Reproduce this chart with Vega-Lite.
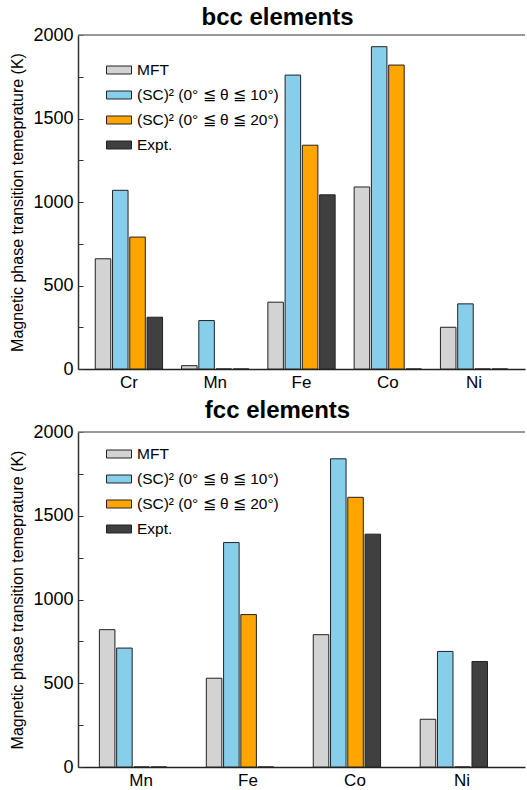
{
  "$schema": "https://vega.github.io/schema/vega-lite/v6.json",
  "background": "white",
  "padding": {"left": 9, "top": 6, "right": 0, "bottom": 0},
  "spacing": 9,
  "config": {
    "font": "Liberation Sans",
    "view": {"stroke": null},
    "axis": {"labelFont": "Liberation Sans", "titleFont": "Liberation Sans", "labelColor": "black", "titleColor": "black", "domainColor": "#333", "tickColor": "#333", "grid": false},
    "title": {"font": "Liberation Sans", "fontSize": 24, "fontWeight": "bold", "color": "black"},
    "legend": {"labelFont": "Liberation Sans", "labelColor": "black"}
  },
  "datasets": {
    "bcc": [
      {"element": "Cr", "method": "MFT", "T": 660},
      {"element": "Cr", "method": "(SC)² (0° ≦ θ ≦ 10°)", "T": 1070},
      {"element": "Cr", "method": "(SC)² (0° ≦ θ ≦ 20°)", "T": 790},
      {"element": "Cr", "method": "Expt.", "T": 310},
      {"element": "Mn", "method": "MFT", "T": 20},
      {"element": "Mn", "method": "(SC)² (0° ≦ θ ≦ 10°)", "T": 290},
      {"element": "Mn", "method": "(SC)² (0° ≦ θ ≦ 20°)", "T": 0},
      {"element": "Mn", "method": "Expt.", "T": 0},
      {"element": "Fe", "method": "MFT", "T": 400},
      {"element": "Fe", "method": "(SC)² (0° ≦ θ ≦ 10°)", "T": 1760},
      {"element": "Fe", "method": "(SC)² (0° ≦ θ ≦ 20°)", "T": 1340},
      {"element": "Fe", "method": "Expt.", "T": 1043},
      {"element": "Co", "method": "MFT", "T": 1090},
      {"element": "Co", "method": "(SC)² (0° ≦ θ ≦ 10°)", "T": 1930},
      {"element": "Co", "method": "(SC)² (0° ≦ θ ≦ 20°)", "T": 1820},
      {"element": "Co", "method": "Expt.", "T": 0},
      {"element": "Ni", "method": "MFT", "T": 250},
      {"element": "Ni", "method": "(SC)² (0° ≦ θ ≦ 10°)", "T": 390},
      {"element": "Ni", "method": "(SC)² (0° ≦ θ ≦ 20°)", "T": 0},
      {"element": "Ni", "method": "Expt.", "T": 0}
    ],
    "fcc": [
      {"element": "Mn", "method": "MFT", "T": 820},
      {"element": "Mn", "method": "(SC)² (0° ≦ θ ≦ 10°)", "T": 710},
      {"element": "Mn", "method": "(SC)² (0° ≦ θ ≦ 20°)", "T": 0},
      {"element": "Mn", "method": "Expt.", "T": 0},
      {"element": "Fe", "method": "MFT", "T": 530},
      {"element": "Fe", "method": "(SC)² (0° ≦ θ ≦ 10°)", "T": 1340},
      {"element": "Fe", "method": "(SC)² (0° ≦ θ ≦ 20°)", "T": 910},
      {"element": "Fe", "method": "Expt.", "T": 0},
      {"element": "Co", "method": "MFT", "T": 790},
      {"element": "Co", "method": "(SC)² (0° ≦ θ ≦ 10°)", "T": 1840},
      {"element": "Co", "method": "(SC)² (0° ≦ θ ≦ 20°)", "T": 1610},
      {"element": "Co", "method": "Expt.", "T": 1390},
      {"element": "Ni", "method": "MFT", "T": 285},
      {"element": "Ni", "method": "(SC)² (0° ≦ θ ≦ 10°)", "T": 690},
      {"element": "Ni", "method": "(SC)² (0° ≦ θ ≦ 20°)", "T": 0},
      {"element": "Ni", "method": "Expt.", "T": 630}
    ],
    "frame": [{"top": 2000}]
  },
  "resolve": {"legend": {"color": "independent"}},
  "vconcat": [
    {
      "width": 447,
      "height": 334,
      "title": {"text": "bcc elements", "dx": -24, "offset": -4},
      "layer": [
        {
          "data": {"name": "bcc"},
          "mark": {"type": "bar", "stroke": "#222", "strokeWidth": 1},
          "encoding": {
            "x": {"field": "element", "type": "nominal", "sort": ["Cr", "Mn", "Fe", "Co", "Ni"],
                  "scale": {"paddingInner": 0.22, "paddingOuter": 0.2},
                  "axis": {"title": null, "labelAngle": 0, "ticks": false, "labelFontSize": 17, "labelPadding": 5, "domainColor": "#222", "domainWidth": 1.5}},
            "xOffset": {"field": "method", "type": "nominal", "sort": ["MFT", "(SC)² (0° ≦ θ ≦ 10°)", "(SC)² (0° ≦ θ ≦ 20°)", "Expt."], "scale": {"paddingInner": 0.1}},
            "y": {"field": "T", "type": "quantitative", "scale": {"domain": [0, 2000]},
                  "axis": {"title": "Magnetic phase transition temeprature (K)", "values": [0, 250, 500, 750, 1000, 1250, 1500, 1750, 2000], "format": "d",
                           "labelExpr": "datum.value % 500 === 0 ? datum.label : ''", "tickSize": -5, "labelPadding": 10, "labelFontSize": 18,
                           "titleFontSize": 16, "titleFontWeight": "normal", "titlePadding": 7, "domainWidth": 1.5}},
            "color": {"field": "method", "type": "nominal",
                      "scale": {"domain": ["MFT", "(SC)² (0° ≦ θ ≦ 10°)", "(SC)² (0° ≦ θ ≦ 20°)", "Expt."], "range": ["#d3d3d3", "#87ceeb", "#ffa500", "#404040"]},
                      "legend": {"orient": "none", "legendX": 28, "legendY": 22, "title": null, "symbolType": "M-1,-0.32H1V0.32H-1Z", "symbolSize": 625,
                                 "symbolStrokeColor": "#222", "symbolStrokeWidth": 1, "symbolOpacity": 1, "labelFontSize": 15.5, "labelOffset": 5, "rowPadding": 3}}
          }
        },
        {
          "data": {"name": "frame"},
          "mark": {"type": "rule", "color": "#777", "strokeWidth": 1.5},
          "encoding": {"y": {"field": "top", "type": "quantitative", "title": "Magnetic phase transition temeprature (K)"}}
        }
      ]
    },
    {
      "width": 447,
      "height": 335,
      "title": {"text": "fcc elements", "dx": -24, "offset": 0},
      "layer": [
        {
          "data": {"name": "fcc"},
          "mark": {"type": "bar", "stroke": "#222", "strokeWidth": 1},
          "encoding": {
            "x": {"field": "element", "type": "nominal", "sort": ["Mn", "Fe", "Co", "Ni"],
                  "scale": {"paddingInner": 0.22, "paddingOuter": 0.2},
                  "axis": {"title": null, "labelAngle": 0, "ticks": false, "labelFontSize": 17, "labelPadding": 5, "domainColor": "#222", "domainWidth": 1.5}},
            "xOffset": {"field": "method", "type": "nominal", "sort": ["MFT", "(SC)² (0° ≦ θ ≦ 10°)", "(SC)² (0° ≦ θ ≦ 20°)", "Expt."], "scale": {"paddingInner": 0.1}},
            "y": {"field": "T", "type": "quantitative", "scale": {"domain": [0, 2000]},
                  "axis": {"title": "Magnetic phase transition temeprature (K)", "values": [0, 250, 500, 750, 1000, 1250, 1500, 1750, 2000], "format": "d",
                           "labelExpr": "datum.value % 500 === 0 ? datum.label : ''", "tickSize": -5, "labelPadding": 10, "labelFontSize": 18,
                           "titleFontSize": 16, "titleFontWeight": "normal", "titlePadding": 7, "domainWidth": 1.5}},
            "color": {"field": "method", "type": "nominal",
                      "scale": {"domain": ["MFT", "(SC)² (0° ≦ θ ≦ 10°)", "(SC)² (0° ≦ θ ≦ 20°)", "Expt."], "range": ["#d3d3d3", "#87ceeb", "#ffa500", "#404040"]},
                      "legend": {"orient": "none", "legendX": 28, "legendY": 9, "title": null, "symbolType": "M-1,-0.32H1V0.32H-1Z", "symbolSize": 625,
                                 "symbolStrokeColor": "#222", "symbolStrokeWidth": 1, "symbolOpacity": 1, "labelFontSize": 15.5, "labelOffset": 5, "rowPadding": 3}}
          }
        },
        {
          "data": {"name": "frame"},
          "mark": {"type": "rule", "color": "#777", "strokeWidth": 1.5},
          "encoding": {"y": {"field": "top", "type": "quantitative", "title": "Magnetic phase transition temeprature (K)"}}
        }
      ]
    }
  ]
}
